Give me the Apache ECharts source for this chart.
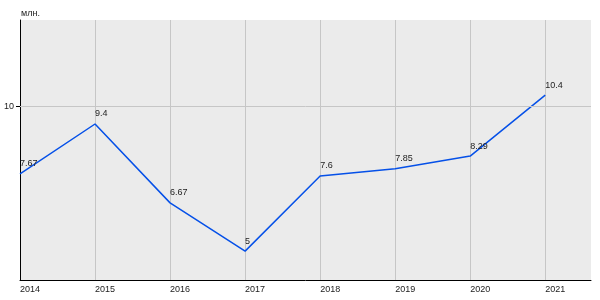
<!DOCTYPE html>
<html><head><meta charset="utf-8">
<script src="https://cdn.jsdelivr.net/npm/echarts@6/dist/echarts.min.js"></script>
<style>html,body{margin:0;padding:0;background:#fff}#c{width:600px;height:300px}</style>
</head><body><div id="c"></div>
<script>
const years = [2014, 2015, 2016, 2017, 2018, 2019, 2020, 2021];
const values = [7.67, 9.4, 6.67, 5, 7.6, 7.85, 8.29, 10.4];
const yTicks = [10];
const unit = 'млн.';

const font = 'Liberation Sans, Arial, sans-serif';
const chart = echarts.init(document.getElementById('c'), null, {renderer: 'canvas'});
chart.setOption({
  animation: false,
  grid: {left: 20, right: 9, top: 20, bottom: 20, show: true, backgroundColor: '#ebebeb', borderWidth: 0},
  xAxis: {
    type: 'value', min: 2014, max: 2021.61, interval: 1,
    axisLine: {show: true, onZero: false, lineStyle: {color: '#000', width: 1}},
    axisTick: {show: false},
    axisLabel: {
      color: '#222', fontSize: 9, fontFamily: font, align: 'left', margin: 5,
      showMaxLabel: false,
      formatter: v => (Number.isInteger(v) && v <= 2021) ? String(v) : ''
    },
    splitLine: {show: true, lineStyle: {color: ['#c6c6c6','#c6c6c6','#c6c6c6','#c6c6c6','#c6c6c6','#c6c6c6','#c6c6c6','#c6c6c6','rgba(0,0,0,0)'], width: 1}}
  },
  yAxis: {
    type: 'value', min: 4, max: 13,
    name: unit, nameLocation: 'end', nameGap: 6,
    nameTextStyle: {color: '#222', fontSize: 9, fontFamily: font, align: 'left', verticalAlign: 'middle', padding: [0,0,0,1]},
    axisLine: {show: true, lineStyle: {color: '#000', width: 1}},
    axisTick: {show: true, length: 4, customValues: yTicks, lineStyle: {color: '#000'}},
    axisLabel: {color: '#222', fontSize: 9, fontFamily: font, margin: 6, customValues: yTicks},
    splitLine: {show: false}
  },
  series: [{
    type: 'line',
    data: years.map((y, i) => [y, values[i]]),
    showSymbol: true, symbol: 'circle', symbolSize: 1,
    itemStyle: {color: 'rgba(0,0,0,0)', borderWidth: 0},
    lineStyle: {color: '#0550e8', width: 1.5},
    label: {show: true, position: 'top', align: 'left', distance: 5, color: '#222', fontSize: 9, fontFamily: font},
    labelLayout: {hideOverlap: false},
    markLine: {
      silent: true, symbol: 'none', label: {show: false},
      lineStyle: {color: '#c6c6c6', type: 'solid', width: 1},
      data: yTicks.map(v => ({yAxis: v}))
    },
    z: 3
  }]
});
</script></body></html>
